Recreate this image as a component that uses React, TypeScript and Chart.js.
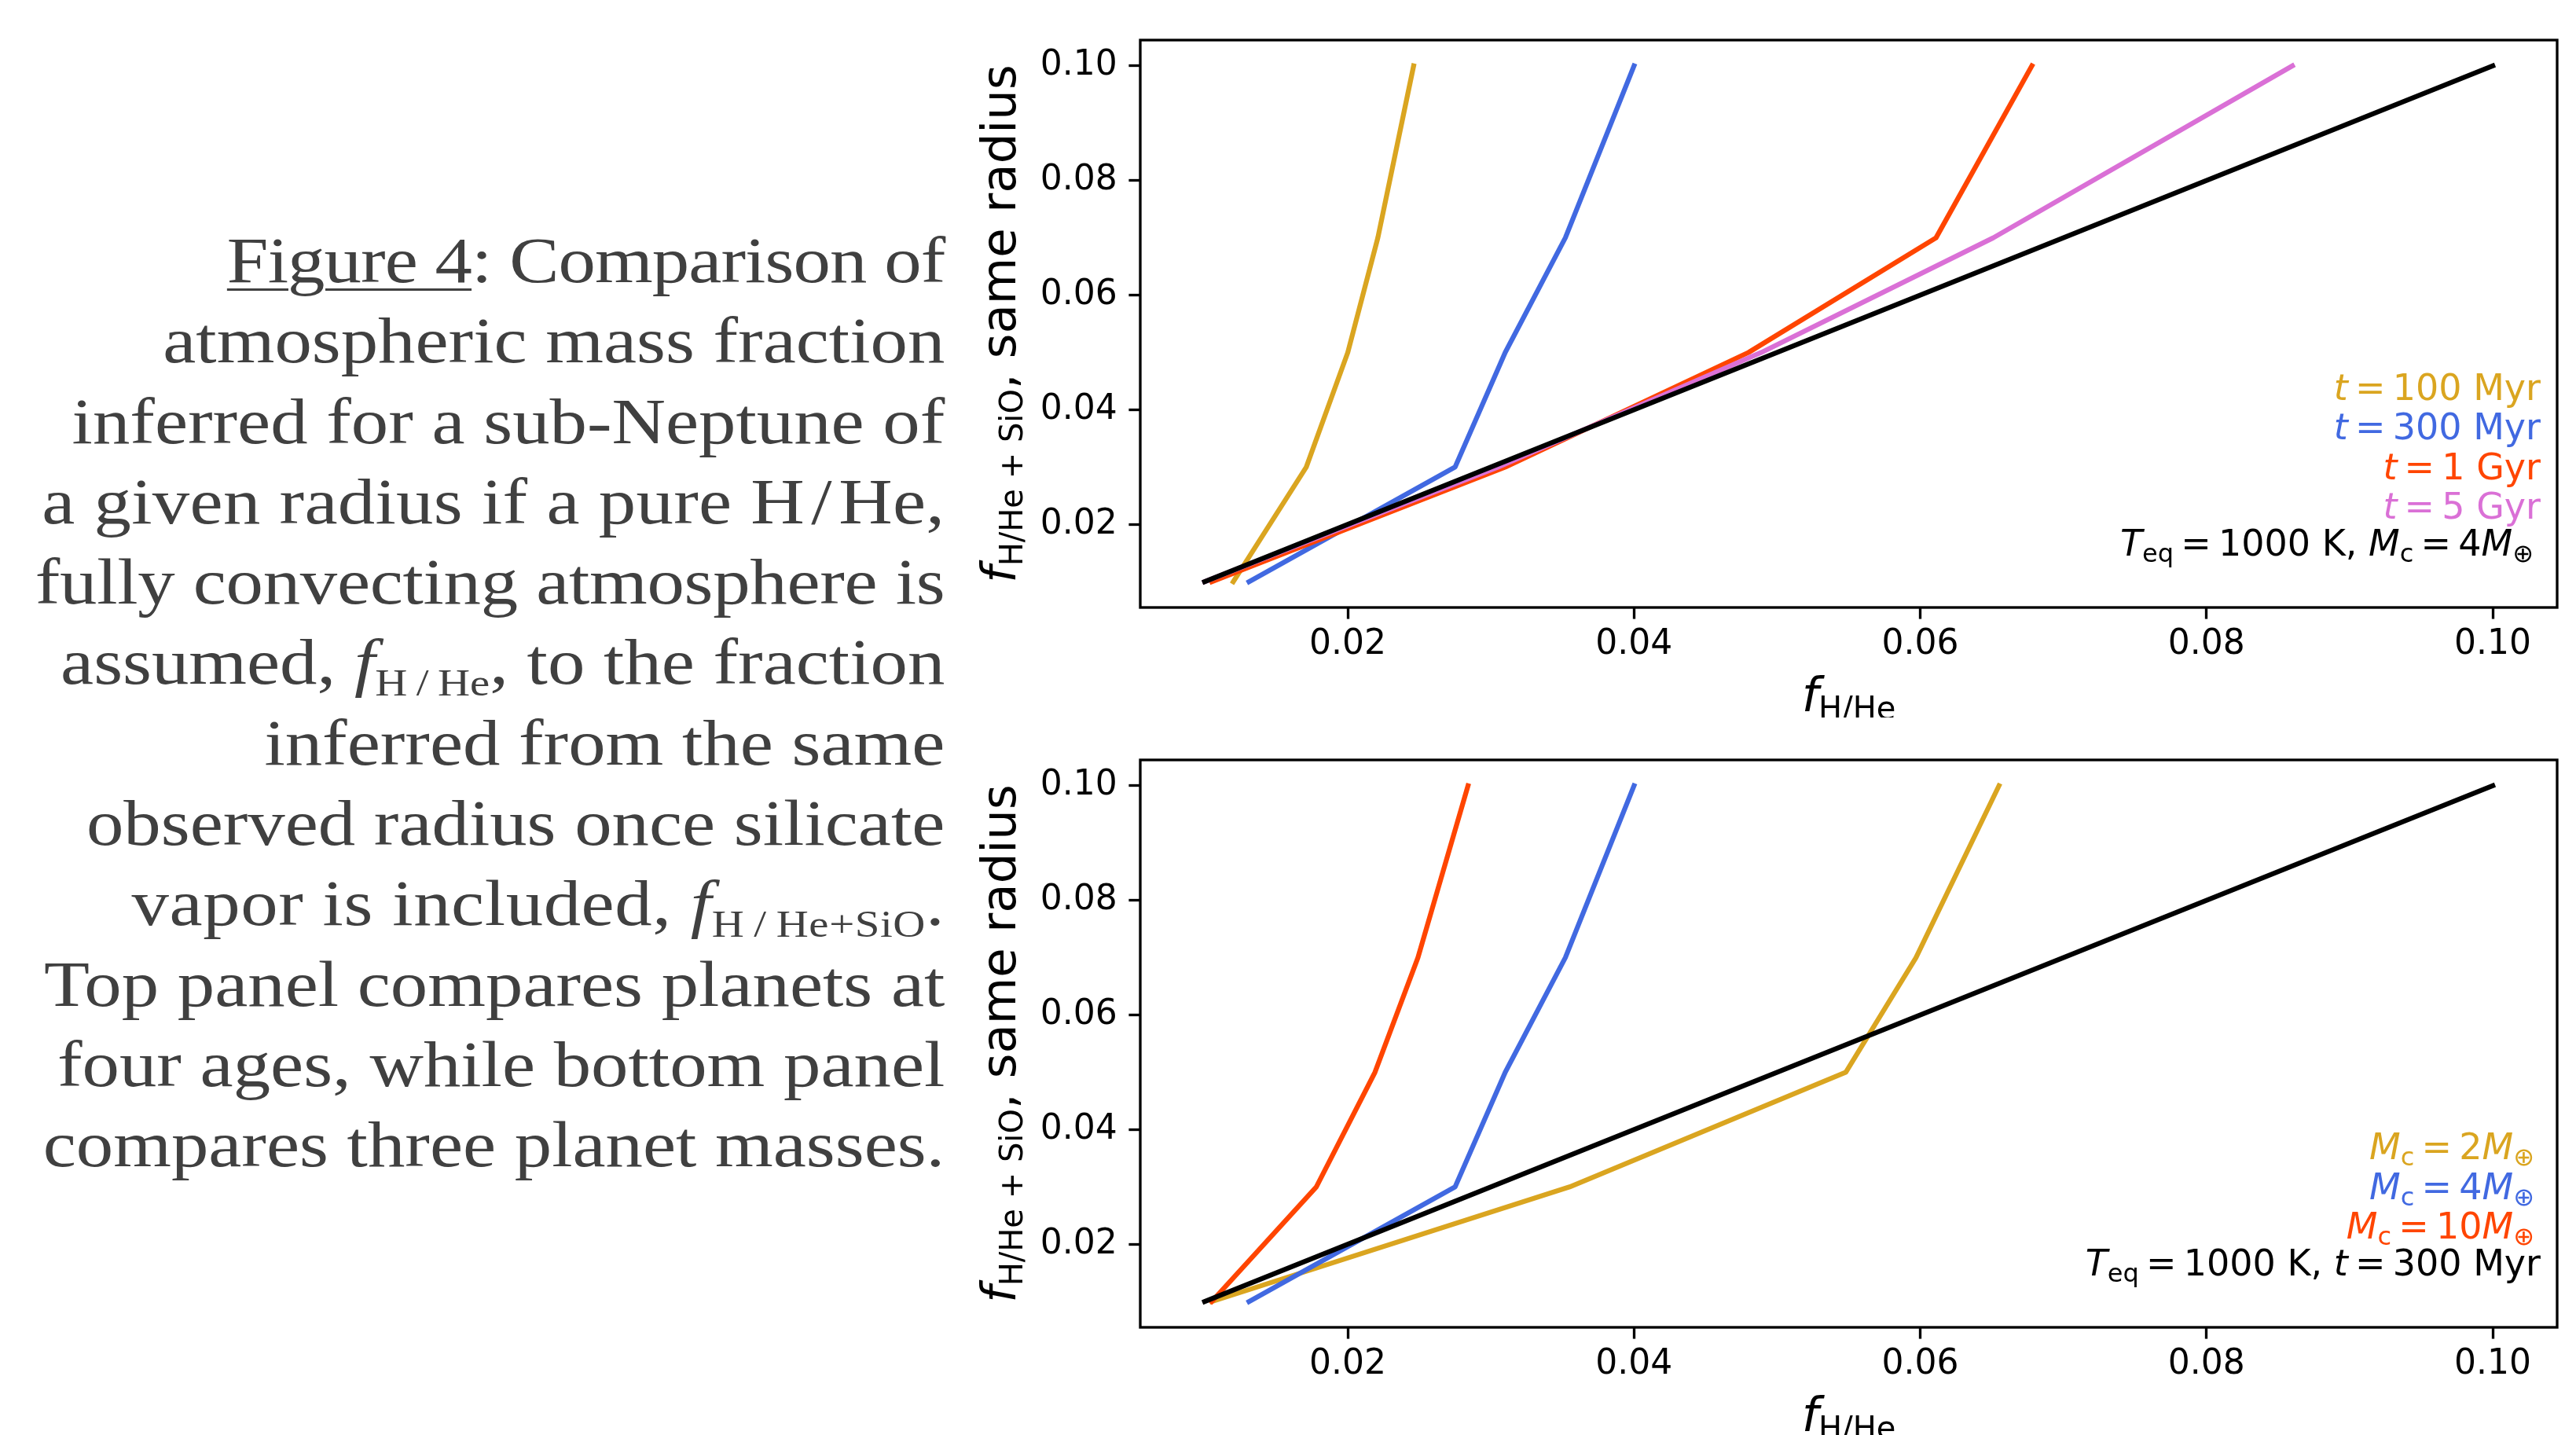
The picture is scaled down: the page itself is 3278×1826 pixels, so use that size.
import React, { useEffect, useRef } from 'react';
import { Chart, registerables } from 'chart.js';

Chart.register(...registerables);

// ---------------- data ----------------
// f_H/He+SiO (y) grid shared by every curve
const yGrid = [0.01, 0.03, 0.05, 0.07, 0.1];
// top panel: f_H/He (x) at four ages
const xAge100Myr = [0.012, 0.0171, 0.02, 0.0221, 0.0246];
const xAge300Myr = [0.0131, 0.0275, 0.031, 0.0352, 0.04];
const xAge1Gyr = [0.0105, 0.031, 0.048, 0.0611, 0.0678];
const xAge5Gyr = [0.01, 0.0305, 0.0489, 0.0651, 0.086];
// bottom panel: f_H/He (x) for three core masses
const xMass2 = [0.0105, 0.0355, 0.0548, 0.0597, 0.0655];
const xMass4 = [0.0131, 0.0275, 0.031, 0.0352, 0.04];
const xMass10 = [0.0105, 0.0178, 0.0219, 0.0249, 0.0284];
// one-to-one line
const identityX = [0.01, 0.1];
const identityY = [0.01, 0.1];
// axes
const tickValues = [0.02, 0.04, 0.06, 0.08, 0.1];
const tickLabels = ['0.02', '0.04', '0.06', '0.08', '0.10'];
const axisMin = 0.0055;
const axisMax = 0.1045;

const GOLD = '#DAA520';
const BLUE = '#4169E1';
const RED = '#FF4500';
const PINK = '#DA70D6';
const BLACK = '#000000';

type Seg = { t: string; it?: boolean; sub?: boolean };
type LegendLine = { color: string; segs: Seg[]; inset?: number };

const TS = '\u2009';
const HS = '\u200A';

const topLegend: LegendLine[] = [
  { color: GOLD, segs: [{ t: 't', it: true }, { t: `${TS}=${TS}100 Myr` }] },
  { color: BLUE, segs: [{ t: 't', it: true }, { t: `${TS}=${TS}300 Myr` }] },
  { color: RED, segs: [{ t: 't', it: true }, { t: `${TS}=${TS}1 Gyr` }] },
  { color: PINK, segs: [{ t: 't', it: true }, { t: `${TS}=${TS}5 Gyr` }] },
  {
    color: BLACK,
    inset: 9,
    segs: [
      { t: 'T', it: true }, { t: 'eq', sub: true }, { t: `${TS}=${TS}1000 K, ` },
      { t: 'M', it: true }, { t: 'c', sub: true }, { t: `${TS}=${TS}4` },
      { t: 'M', it: true }, { t: '\u2295', sub: true },
    ],
  },
];

const bottomLegend: LegendLine[] = [
  { color: GOLD, inset: 8, segs: [{ t: 'M', it: true }, { t: 'c', sub: true }, { t: `${TS}=${TS}2` }, { t: 'M', it: true }, { t: '\u2295', sub: true }] },
  { color: BLUE, inset: 8, segs: [{ t: 'M', it: true }, { t: 'c', sub: true }, { t: `${TS}=${TS}4` }, { t: 'M', it: true }, { t: '\u2295', sub: true }] },
  { color: RED, inset: 8, segs: [{ t: 'M', it: true }, { t: 'c', sub: true }, { t: `${TS}=${TS}10` }, { t: 'M', it: true }, { t: '\u2295', sub: true }] },
  {
    color: BLACK,
    segs: [
      { t: 'T', it: true }, { t: 'eq', sub: true }, { t: `${TS}=${TS}1000 K, ` },
      { t: 't', it: true }, { t: `${TS}=${TS}300 Myr` },
    ],
  },
];

const xTitle: Seg[] = [{ t: 'f', it: true }, { t: 'H/He', sub: true }];
const yTitle: Seg[] = [{ t: 'f', it: true }, { t: 'H/He + SiO', sub: true }, { t: ', same radius' }];

const FAMILY = '"DejaVu Sans", sans-serif';

function drawRich(
  ctx: CanvasRenderingContext2D,
  segs: Seg[],
  x: number,
  y: number,
  align: 'left' | 'right' | 'center',
  size: number,
  subSize: number,
  subDy: number,
  color: string
) {
  ctx.save();
  ctx.fillStyle = color;
  ctx.textBaseline = 'alphabetic';
  ctx.textAlign = 'left';
  const fontOf = (s: Seg) => `${s.it ? 'italic ' : ''}${s.sub ? subSize : size}px ${FAMILY}`;
  const widths = segs.map((s) => {
    ctx.font = fontOf(s);
    return ctx.measureText(s.t).width;
  });
  const total = widths.reduce((a, b) => a + b, 0);
  let cx = align === 'right' ? x - total : align === 'center' ? x - total / 2 : x;
  segs.forEach((s, i) => {
    ctx.font = fontOf(s);
    ctx.fillText(s.t, cx, y + (s.sub ? subDy : 0));
    cx += widths[i];
  });
  ctx.restore();
}

const legendBaselines = [-66.5, -113, -163.4, -213.8, -264.2];

function makeAnnotPlugin(legend: LegendLine[]) {
  return {
    id: 'annot',
    afterDraw(chart: any) {
      const ctx: CanvasRenderingContext2D = chart.ctx;
      const a = chart.chartArea;
      ctx.save();
      ctx.lineWidth = 3.33;
      ctx.strokeStyle = '#000';
      ctx.strokeRect(a.left, a.top, a.right - a.left, a.bottom - a.top);
      ctx.restore();
      // text legend (right aligned, bottom right)
      const n = legend.length;
      legend.forEach((line, i) => {
        const y = a.bottom + legendBaselines[n - 1 - i];
        drawRich(ctx, line.segs, a.right - 21 - (line.inset || 0), y, 'right', 46, 32, 8, line.color);
      });
      // x title
      drawRich(ctx, xTitle, (a.left + a.right) / 2, a.bottom + 132, 'center', 61, 40, 10, '#000');
      // y title (rotated)
      ctx.save();
      ctx.translate(a.left - 159, (a.top + a.bottom) / 2);
      ctx.rotate(-Math.PI / 2);
      drawRich(ctx, yTitle, 0, 0, 'center', 61, 40, 9, '#000');
      ctx.restore();
    },
  };
}

type Series = { xs: number[]; ys: number[]; color: string; order: number };

function buildChart(canvas: HTMLCanvasElement, series: Series[], legend: LegendLine[], xAxisHeight: number) {
  const scaleCommon = {
    type: 'linear' as const,
    min: axisMin,
    max: axisMax,
    border: { display: false },
    grid: {
      display: true,
      drawOnChartArea: false,
      drawTicks: true,
      tickLength: 14.6,
      tickWidth: 3.33,
      tickColor: '#000',
    },
    afterBuildTicks: (scale: any) => {
      scale.ticks = tickValues.map((v) => ({ value: v }));
    },
  };
  const labelOf = (v: any) => {
    const i = tickValues.findIndex((t) => Math.abs(t - Number(v)) < 1e-9);
    return i >= 0 ? tickLabels[i] : '';
  };
  return new Chart(canvas, {
    type: 'scatter',
    data: {
      datasets: series.map((s) => ({
        data: s.xs.map((x, i) => ({ x, y: s.ys[i] })),
        showLine: true,
        borderColor: s.color,
        backgroundColor: s.color,
        borderWidth: 6.25,
        borderCapStyle: 'square' as const,
        borderJoinStyle: 'round' as const,
        pointRadius: 0,
        pointHoverRadius: 0,
        tension: 0,
        order: s.order,
      })),
    },
    options: {
      animation: false,
      responsive: false,
      devicePixelRatio: 1,
      events: [],
      layout: { padding: { left: 0, right: 24, top: 51, bottom: 0 } },
      plugins: { legend: { display: false }, tooltip: { enabled: false }, title: { display: false } },
      scales: {
        x: {
          ...scaleCommon,
          position: 'bottom',
          ticks: {
            color: '#000',
            padding: 7,
            maxRotation: 0,
            font: { family: FAMILY, size: 44 },
            callback: labelOf,
          },
          afterFit: (scale: any) => {
            scale.height = xAxisHeight;
          },
        },
        y: {
          ...scaleCommon,
          position: 'left',
          ticks: {
            color: '#000',
            padding: 14.6,
            font: { family: FAMILY, size: 44 },
            callback: labelOf,
          },
          afterFit: (scale: any) => {
            scale.width = 251;
          },
        },
      },
    } as any,
    plugins: [makeAnnotPlugin(legend)],
  });
}

const captionStyle: React.CSSProperties = {
  position: 'absolute',
  right: 3278 - 1202,
  top: 281,
  textAlign: 'right',
  whiteSpace: 'nowrap',
  transform: 'scaleX(1.156)',
  transformOrigin: 'right top',
  fontFamily: '"Liberation Serif", serif',
  fontSize: 82,
  lineHeight: '102.3px',
  color: '#404040',
};

const subStyle: React.CSSProperties = {
  fontSize: '0.6em',
  position: 'relative',
  top: '0.3em',
  fontStyle: 'normal',
  lineHeight: 0,
};

export default function App() {
  const topRef = useRef<HTMLCanvasElement>(null);
  const botRef = useRef<HTMLCanvasElement>(null);

  useEffect(() => {
    const top = buildChart(
      topRef.current!,
      [
        { xs: identityX, ys: identityY, color: BLACK, order: 0 },
        { xs: xAge5Gyr, ys: yGrid, color: PINK, order: 1 },
        { xs: xAge1Gyr, ys: yGrid, color: RED, order: 2 },
        { xs: xAge300Myr, ys: yGrid, color: BLUE, order: 3 },
        { xs: xAge100Myr, ys: yGrid, color: GOLD, order: 4 },
      ],
      topLegend,
      140
    );
    const bot = buildChart(
      botRef.current!,
      [
        { xs: identityX, ys: identityY, color: BLACK, order: 0 },
        { xs: xMass10, ys: yGrid, color: RED, order: 1 },
        { xs: xMass4, ys: yGrid, color: BLUE, order: 2 },
        { xs: xMass2, ys: yGrid, color: GOLD, order: 3 },
      ],
      bottomLegend,
      137
    );
    return () => {
      top.destroy();
      bot.destroy();
    };
  }, []);

  const f = (sub: string) => (
    <span>
      <i>f</i>
      <span style={subStyle}>{sub}</span>
    </span>
  );

  return (
    <div style={{ position: 'absolute', left: 0, top: 0, width: 3278, height: 1826, overflow: 'hidden', background: '#fff' }}>
      <div style={captionStyle}>
        <div style={{ letterSpacing: '-0.8px' }}>
          <span style={{ textDecoration: 'underline', textDecorationThickness: '3px', textUnderlineOffset: '8px' }}>Figure 4</span>: Comparison of
        </div>
        <div>atmospheric mass fraction</div>
        <div>inferred for a sub-Neptune of</div>
        <div style={{ letterSpacing: '0.25px' }}>a given radius if a pure H{HS}/{HS}He,</div>
        <div style={{ letterSpacing: '-0.25px' }}>fully convecting atmosphere is</div>
        <div>assumed, {f('H\u2009/\u2009He')}, to the fraction</div>
        <div>inferred from the same</div>
        <div>observed radius once silicate</div>
        <div style={{ letterSpacing: '0.5px' }}>vapor is included, {f('H\u2009/\u2009He+SiO')}.</div>
        <div>Top panel compares planets at</div>
        <div>four ages, while bottom panel</div>
        <div>compares three planet masses.</div>
      </div>
      <canvas ref={topRef} width={2078} height={913} style={{ position: 'absolute', left: 1200, top: 0 }} />
      <canvas ref={botRef} width={2078} height={910} style={{ position: 'absolute', left: 1200, top: 916 }} />
    </div>
  );
}
